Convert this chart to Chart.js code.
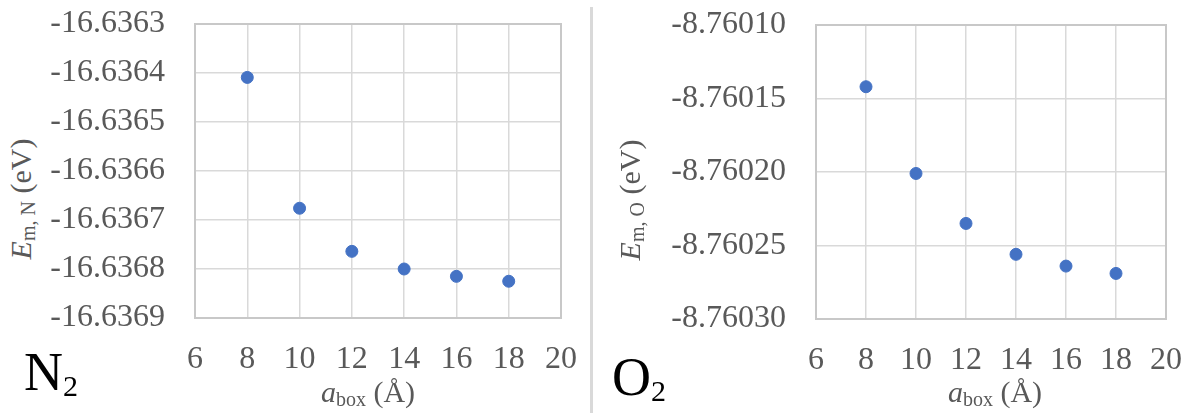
<!DOCTYPE html>
<html>
<head>
<meta charset="utf-8">
<script src="https://cdn.jsdelivr.net/npm/chart.js@4"></script>
<style>
  html, body { margin: 0; padding: 0; background: #fff; }
  #page { position: relative; width: 1188px; height: 413px; overflow: hidden; background: #fff; }
  canvas { position: absolute; top: 0; }
  .ytitle, .xtitle { position: absolute; font-family: "Liberation Serif", serif; font-size: 30px; color: #595959; white-space: nowrap; line-height: 1; }
  .ytitle { transform: translate(-50%, -50%) rotate(-90deg); }
  .xtitle { transform: translate(-50%, -50%); }
  .ytitle sub, .xtitle sub { font-size: 20px; vertical-align: -4px; }
  .mol { position: absolute; font-family: "Liberation Serif", serif; font-size: 54px; color: #000; line-height: 1; white-space: nowrap; }
  .mol sub { font-size: 30px; vertical-align: -6px; }
  #divider { position: absolute; left: 590px; top: 7px; width: 3px; height: 406px; background: #d9d9d9; }
</style>
</head>
<body>
<div id="page">
  <canvas id="chartN" width="540" height="413" style="left:40px"></canvas>
  <canvas id="chartO" width="588" height="413" style="left:600px"></canvas>
  <div id="divider"></div>
  <div class="ytitle" style="left:22px; top:199px"><i>E</i><sub>m, N</sub> (eV)</div>
  <div class="xtitle" style="left:368px; top:393px"><i>a</i><sub>box</sub> (Å)</div>
  <div class="ytitle" style="left:631px; top:200px"><i>E</i><sub>m, O</sub> (eV)</div>
  <div class="xtitle" style="left:995px; top:393px"><i>a</i><sub>box</sub> (Å)</div>
  <div class="mol" style="left:24px; top:345px">N<sub>2</sub></div>
  <div class="mol" style="left:612px; top:350px">O<sub>2</sub></div>
</div>
<script>
// Supercell edge length (Å) and the converged energies for each molecule
const boxSizes = [8, 10, 12, 14, 16, 18];
const energyN2 = [-16.636409, -16.636676, -16.636764, -16.636800, -16.636815, -16.636825];
const energyO2 = [-8.760142, -8.760201, -8.760235, -8.760256, -8.760264, -8.760269];

// Axis ranges
const xRange = { min: 6, max: 20, step: 2 };
const yRangeN2 = { min: -16.6369, max: -16.6363, step: 0.0001, digits: 4 };
const yRangeO2 = { min: -8.7603, max: -8.7601, step: 0.00005, digits: 5 };

const tickFont = { family: "Liberation Serif", size: 32 };
const tickColor = "#595959";
const gridColor = "#d9d9d9";
const pointColor = "#4472C4";

// Fix an axis's thickness and drop the label overflow padding so the
// plot area sits exactly where the layout padding puts it
function fixAxis(s, prop, size) {
  s[prop] = size;
  s.paddingTop = 0; s.paddingBottom = 0; s.paddingLeft = 0; s.paddingRight = 0;
}

function makeChart(id, values, yRange, layout) {
  const points = boxSizes.map((x, i) => ({ x: x, y: values[i] }));
  return new Chart(document.getElementById(id), {
    type: "scatter",
    data: {
      datasets: [{
        data: points,
        backgroundColor: pointColor,
        borderColor: pointColor,
        borderWidth: 1,
        pointRadius: 6
      }]
    },
    options: {
      responsive: false,
      animation: false,
      layout: { padding: { top: layout.top, right: layout.right, left: 0, bottom: 0 } },
      plugins: { legend: { display: false }, tooltip: { enabled: false } },
      scales: {
        x: {
          type: "linear",
          min: xRange.min, max: xRange.max,
          afterFit: (s) => fixAxis(s, "height", layout.xHeight),
          grid: { color: gridColor, lineWidth: 1.5, drawTicks: false },
          border: { color: "#c8c8c8", width: 2 },
          ticks: { stepSize: xRange.step, font: tickFont, color: tickColor, padding: 22 }
        },
        y: {
          type: "linear",
          min: yRange.min, max: yRange.max,
          afterFit: (s) => fixAxis(s, "width", layout.yWidth),
          grid: { color: gridColor, lineWidth: 1.5, drawTicks: false },
          border: { color: "#c8c8c8", width: 2 },
          ticks: {
            stepSize: yRange.step, font: tickFont, color: tickColor, padding: 30,
            callback: (v) => v.toFixed(yRange.digits)
          }
        }
      }
    },
    plugins: [{
      id: "frame",
      afterDraw(chart) {
        const a = chart.chartArea, c = chart.ctx;
        c.save();
        c.strokeStyle = "#c8c8c8";
        c.lineWidth = 2;
        c.strokeRect(a.left, a.top, a.right - a.left, a.bottom - a.top);
        c.restore();
      }
    }]
  });
}

makeChart("chartN", energyN2, yRangeN2, { top: 24, right: 19, xHeight: 95, yWidth: 155 });
makeChart("chartO", energyO2, yRangeO2, { top: 25, right: 22, xHeight: 94, yWidth: 216 });
</script>
</body>
</html>
